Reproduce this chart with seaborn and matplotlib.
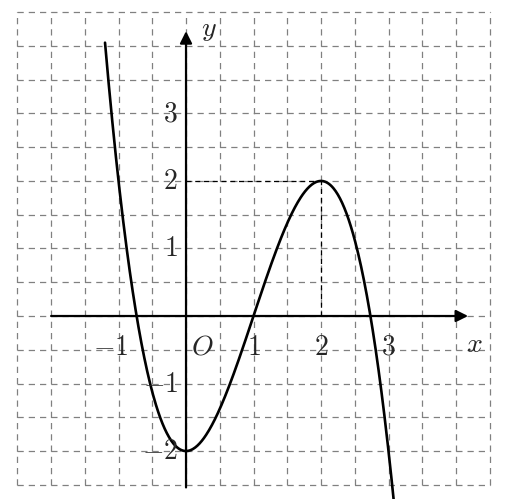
import numpy as np
import matplotlib.pyplot as plt
import seaborn as sns

sns.set_style("white")
plt.rcParams["mathtext.fontset"] = "cm"

# y = -x^3 + 3x^2 - 2
coeffs = [-1, 3, 0, -2]
x_range = [-1.2, 3.1]
x_ticks = [-1, 1, 2, 3]
y_ticks = [-2, -1, 1, 2, 3]
peak = (2, 2)

fig = plt.figure(figsize=(5.15, 4.99), dpi=100)
ax = fig.add_axes([0, 0, 1, 1])
ax.set_xlim(-2.756, 4.874)
ax.set_ylim(-2.71, 4.68)
ax.axis("off")

# grid
for g in np.arange(-2.5, 4.51, 0.5):
    ax.plot([g, g], [-2.5, 4.5], color="gray", lw=0.9, ls=(0, (5, 4)), zorder=1)
    ax.plot([-2.5, 4.5], [g, g], color="gray", lw=0.9, ls=(0, (5, 4)), zorder=1)

# axes arrows
ax.annotate("", xy=(4.22, 0), xytext=(-2.04, 0),
            arrowprops=dict(arrowstyle="-|>", color="black", lw=1.6, mutation_scale=18))
ax.annotate("", xy=(0, 4.26), xytext=(0, -2.58),
            arrowprops=dict(arrowstyle="-|>", color="black", lw=1.6, mutation_scale=18))

# curve
xs = np.linspace(x_range[0], x_range[1], 400)
sns.lineplot(x=xs, y=np.polyval(coeffs, xs), ax=ax, color="black", lw=1.9, zorder=3)

# dashed guides
ax.plot([0, peak[0]], [peak[1], peak[1]], color="black", lw=0.9, ls=(0, (4, 3)))
ax.plot([peak[0], peak[0]], [0, peak[1]], color="black", lw=0.9, ls=(0, (4, 3)))

fs = 20
for t in x_ticks:
    ax.text(t - (0.12 if t < 0 else 0), -0.25, rf"${t}$", fontsize=fs,
            ha="center", va="top")
for t in y_ticks:
    ax.text(-0.12, t, rf"${t}$", fontsize=fs, ha="right", va="center")
ax.text(0.08, -0.25, r"$O$", fontsize=fs, ha="left", va="top")
ax.text(4.15, -0.2, r"$x$", fontsize=fs, ha="left", va="top")
ax.text(0.22, 4.25, r"$y$", fontsize=fs, ha="left", va="center")

fig.savefig("out.png", dpi=100)
